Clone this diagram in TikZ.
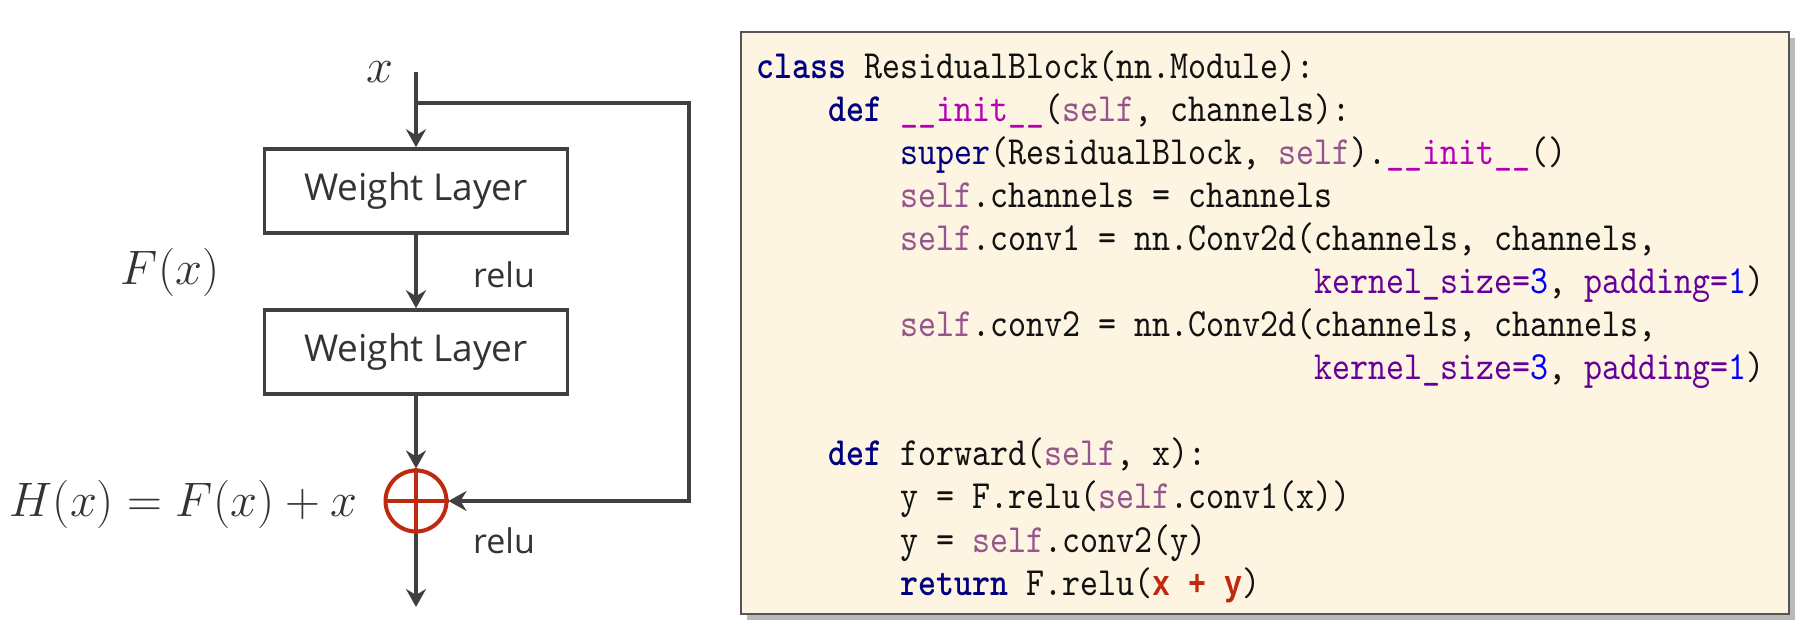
\RequirePackage{fix-cm}
\documentclass[tikz,border=0pt]{standalone}
\usepackage{fontspec}
\newfontfamily\codefont{lmmono10-regular.otf}[FakeStretch=0.857, BoldFont=lmmonolt10-bold.otf]
\newfontfamily\redfont{Liberation Mono}[FakeStretch=0.833]
\newfontfamily\labelfont{Open Sans}
\usetikzlibrary{arrows.meta,shadows}
\definecolor{linegray}{HTML}{404040}
\definecolor{textgray}{HTML}{333333}
\definecolor{redc}{HTML}{BF2A0E}
\definecolor{codebg}{HTML}{FDF5E2}
\definecolor{boxborder}{HTML}{555555}
\definecolor{kwc}{HTML}{000080}
\definecolor{selfc}{HTML}{94558D}
\definecolor{magicc}{HTML}{B200B2}
\definecolor{kwargc}{HTML}{660099}
\definecolor{numc}{HTML}{0000FF}
\definecolor{codetext}{HTML}{111111}
\newcommand\kwd[1]{{\color{kwc}\bfseries #1}}
\newcommand\bltn[1]{{\color{kwc}#1}}
\newcommand\slf[1]{{\color{selfc}#1}}
\newcommand\mgc[1]{{\color{magicc}#1}}
\newcommand\kwa[1]{{\color{kwargc}#1}}
\newcommand\nmb[1]{{\color{numc}#1}}
\newcommand\rdb[1]{{\redfont\fontsize{18}{24}\selectfont\color{redc}\bfseries #1}}
\begin{document}
\begin{tikzpicture}[x=0.5pt,y=-0.5pt,
  conn/.style={draw=linegray, line width=1.8pt, -{Stealth[length=9pt,width=10pt,inset=3pt]}},
  wl/.style={draw=linegray, line width=1.8pt, minimum width=151.5pt, minimum height=42pt, inner sep=0pt,
    font=\labelfont\fontsize{18.5}{20}\selectfont, text=textgray},
  lbl/.style={font=\labelfont\fontsize{17}{19}\selectfont, text=textgray, inner sep=0pt},
  mathlbl/.style={font=\fontsize{24.2}{28}\selectfont, text=textgray, inner sep=0pt},
  codeln/.style={anchor=base west, inner sep=0pt, text=codetext,
    font=\codefont\fontsize{20}{24}\selectfont\frenchspacing},
  sumnode/.style={circle, draw=redc, line width=2pt, minimum size=30.5pt, inner sep=0pt}
]
\useasboundingbox (0,0) rectangle (1813,640);

% ---------- left: residual block diagram ----------
\node[mathlbl] (xin) at (380,72) {$x$};
\coordinate (top) at (416,72);
\coordinate (split) at (416,103);
\coordinate (rc1) at (689,103);
\coordinate (rc2) at (689,501);
\node[wl] (w1) at (416,191) {Weight Layer};
\node[wl] (w2) at (416,352) {Weight Layer};
\node[sumnode] (sum) at (416,501) {};
\draw[redc, line width=1.8pt] (sum.north) -- (sum.south) (sum.west) -- (sum.east);
\coordinate (out) at (416,607);

\draw[conn] (top) -- (w1);
\draw[conn] (w1) -- (w2);
\draw[conn] (w2) -- (sum);
\draw[conn] (split) -- (rc1) -- (rc2) -- (sum);
\draw[conn] (sum) -- (out);

\node[mathlbl] (fx) at (170,272) {$F(x)$};
\node[lbl] (relu1) at (504,275) {relu};
\node[mathlbl, anchor=east] (hx) at (358,504) {$H(x)=F(x)+x$};
\node[lbl] (relu2) at (504,541) {relu};

% ---------- right: code panel ----------
\node[draw=boxborder, fill=codebg, line width=0.8pt, minimum width=524pt, minimum height=291pt, inner sep=0pt,
  drop shadow={shadow xshift=3pt, shadow yshift=-3pt, opacity=0.45, fill=black!60}] (codebox) at (1265,323) {};

\node[codeln] (l1) at (756,79) {\kwd{class} ResidualBlock(nn.Module):};
\node[codeln] (l2) at (828,122) {\kwd{def} \mgc{\_\_init\_\_}(\slf{self}, channels):};
\node[codeln] (l3) at (900,165) {\bltn{super}(ResidualBlock, \slf{self}).\mgc{\_\_init\_\_}()};
\node[codeln] (l4) at (900,208) {\slf{self}.channels = channels};
\node[codeln] (l5) at (900,251) {\slf{self}.conv1 = nn.Conv2d(channels, channels,};
\node[codeln] (l6) at (1314,294) {\kwa{kernel\_size=}\nmb{3}, \kwa{padding=}\nmb{1})};
\node[codeln] (l7) at (900,337) {\slf{self}.conv2 = nn.Conv2d(channels, channels,};
\node[codeln] (l8) at (1314,380) {\kwa{kernel\_size=}\nmb{3}, \kwa{padding=}\nmb{1})};
\node[codeln] (l10) at (828,466) {\kwd{def} forward(\slf{self}, x):};
\node[codeln] (l11) at (900,509) {y = F.relu(\slf{self}.conv1(x))};
\node[codeln] (l12) at (900,552) {y = \slf{self}.conv2(y)};
\node[codeln] (l13) at (900,595) {\kwd{return} F.relu(\rdb{x + y})};
\end{tikzpicture}
\end{document}
